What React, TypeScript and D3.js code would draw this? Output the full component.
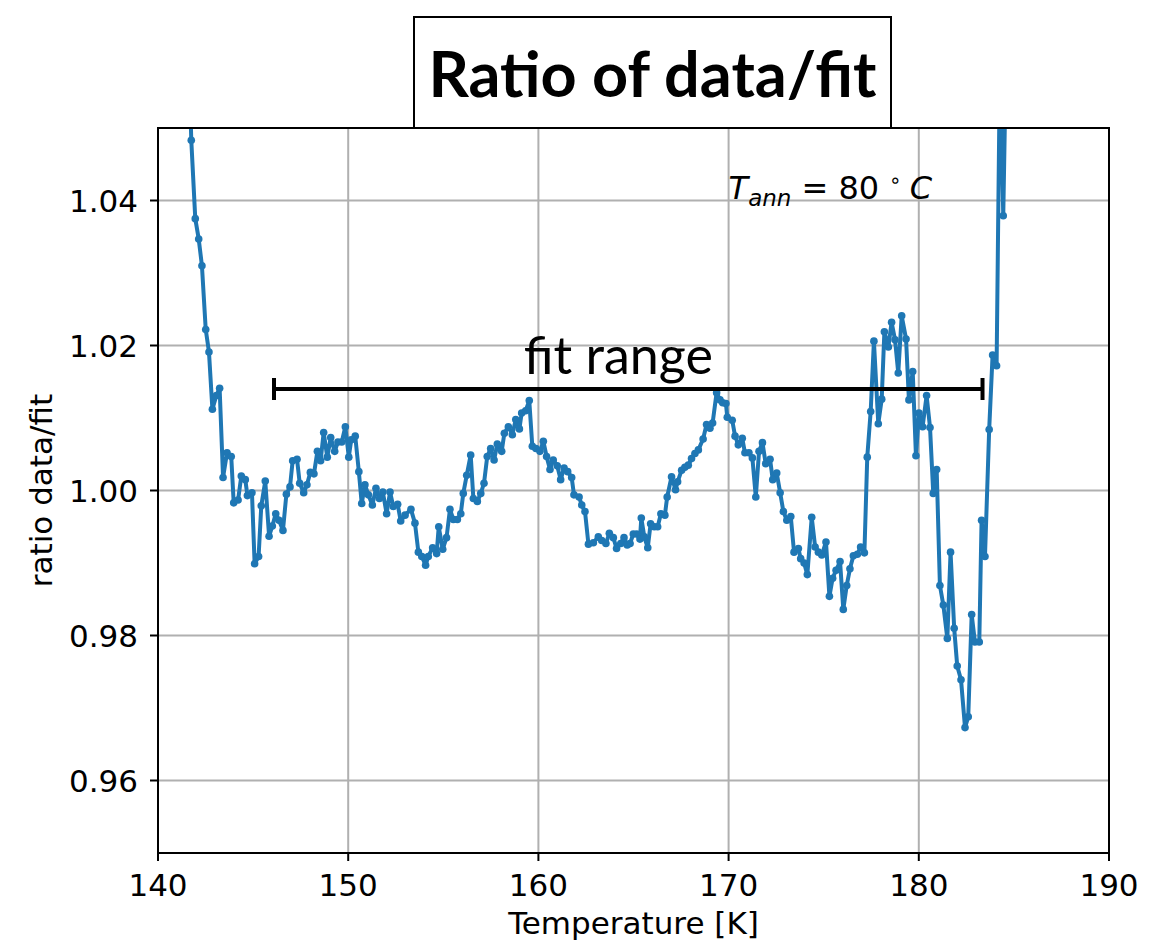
import React from "react";
import * as d3 from "d3";

// Temperature [K] of each measurement
const temperature: number[] = [
  141.6, 141.75, 141.96, 142.14, 142.31, 142.51, 142.68, 142.86, 143.07, 143.24,
  143.42, 143.63, 143.85, 143.98, 144.21, 144.38, 144.59, 144.7, 144.94, 145.08,
  145.29, 145.43, 145.64, 145.84, 146.01, 146.19, 146.36, 146.57, 146.75, 146.94,
  147.08, 147.31, 147.45, 147.66, 147.83, 148.01, 148.2, 148.38, 148.55, 148.71,
  148.9, 149.08, 149.29, 149.46, 149.66, 149.85, 150.03, 150.16, 150.37, 150.56,
  150.71, 150.88, 151.06, 151.27, 151.46, 151.64, 151.82, 152.02, 152.2, 152.37,
  152.6, 152.76, 152.99, 153.3, 153.51, 153.69, 153.87, 154.07, 154.21, 154.44,
  154.65, 154.76, 154.97, 155.17, 155.35, 155.53, 155.74, 155.92, 156.05, 156.23,
  156.44, 156.58, 156.79, 156.97, 157.14, 157.31, 157.49, 157.67, 157.84, 158.07,
  158.21, 158.42, 158.63, 158.81, 159.0, 159.12, 159.33, 159.52, 159.68, 159.87,
  160.08, 160.26, 160.43, 160.61, 160.78, 160.99, 161.17, 161.35, 161.54, 161.75,
  161.87, 162.14, 162.28, 162.45, 162.63, 162.89, 163.15, 163.33, 163.55, 163.73,
  163.94, 164.11, 164.33, 164.5, 164.67, 164.82, 164.99, 165.17, 165.34, 165.41,
  165.57, 165.75, 165.9, 166.09, 166.27, 166.44, 166.65, 166.77, 167.0, 167.21,
  167.32, 167.53, 167.7, 167.88, 168.05, 168.23, 168.41, 168.66, 168.84, 169.02,
  169.16, 169.37, 169.55, 169.69, 169.86, 169.93, 170.19, 170.34, 170.51, 170.72,
  170.86, 171.07, 171.25, 171.43, 171.6, 171.78, 171.95, 172.18, 172.32, 172.53,
  172.71, 172.88, 173.06, 173.27, 173.44, 173.67, 173.79, 173.97, 174.14, 174.37,
  174.55, 174.72, 174.9, 175.12, 175.3, 175.47, 175.65, 175.86, 176.03, 176.21,
  176.38, 176.56, 176.77, 176.94, 177.14, 177.29, 177.47, 177.64, 177.87, 178.05,
  178.19, 178.4, 178.57, 178.75, 178.92, 179.1, 179.33, 179.48, 179.68, 179.85,
  180.01, 180.2, 180.41, 180.59, 180.76, 180.94, 181.11, 181.29, 181.5, 181.67,
  181.86, 182.02, 182.22, 182.43, 182.6, 182.78, 182.95, 183.18, 183.3, 183.48,
  183.7, 183.88, 184.09, 184.27, 184.44, 184.62,
];

// Ratio of measured data to the fitted curve
const ratio: number[] = [
  1.062, 1.0483, 1.0375, 1.0347, 1.031, 1.0222, 1.0191, 1.0112, 1.0131, 1.0141,
  1.0018, 1.0052, 1.0047, 0.9983, 0.9987, 1.002, 1.0015, 0.9993, 0.9997, 0.9899,
  0.9909, 0.9979, 1.0013, 0.9937, 0.9951, 0.9968, 0.9959, 0.9945, 0.9995, 1.0005,
  1.0041, 1.0043, 1.001, 0.9997, 1.0008, 1.0025, 1.0023, 1.0054, 1.0041, 1.008,
  1.0046, 1.0073, 1.0054, 1.0067, 1.0067, 1.0088, 1.0046, 1.007, 1.0075, 1.0026,
  0.9982, 1.0008, 0.9994, 0.998, 1.0003, 0.9989, 0.9998, 0.9968, 0.9998, 0.9978,
  0.9981, 0.9958, 0.9966, 0.9974, 0.9955, 0.9915, 0.9909, 0.9897, 0.9909, 0.9921,
  0.9913, 0.995, 0.9919, 0.9935, 0.9974, 0.996, 0.996, 0.9968, 0.9996, 1.0021,
  1.0049, 0.9989, 0.9985, 0.9996, 1.001, 1.0047, 1.0058, 1.0042, 1.0064, 1.0054,
  1.0079, 1.0088, 1.0077, 1.0098, 1.0085, 1.0107, 1.011, 1.0124, 1.0061, 1.0058,
  1.0054, 1.0068, 1.0047, 1.0029, 1.0042, 1.0034, 1.0015, 1.0031, 1.0026, 1.0018,
  0.9994, 0.9991, 0.998, 0.9971, 0.9926, 0.9928, 0.9936, 0.9931, 0.9927, 0.9941,
  0.9935, 0.992, 0.9927, 0.9935, 0.9925, 0.9927, 0.994, 0.994, 0.9933, 0.9962,
  0.9936, 0.9921, 0.9954, 0.995, 0.995, 0.9968, 0.9966, 0.9991, 1.0019, 1.0001,
  1.0012, 1.0028, 1.0032, 1.0035, 1.0044, 1.0051, 1.0056, 1.0071, 1.0091, 1.0086,
  1.0093, 1.0135, 1.0125, 1.0121, 1.012, 1.0101, 1.0097, 1.0075, 1.0063, 1.0072,
  1.0052, 1.0052, 1.0045, 0.9991, 1.0054, 1.0066, 1.0037, 1.0043, 1.0015, 1.0024,
  0.9997, 0.9971, 0.9959, 0.9964, 0.9915, 0.992, 0.9906, 0.99, 0.9884, 0.9963,
  0.9922, 0.9915, 0.9911, 0.9929, 0.9854, 0.9879, 0.989, 0.9902, 0.9836, 0.9869,
  0.9892, 0.991, 0.9912, 0.9922, 0.9914, 1.0046, 1.0109, 1.0206, 1.0092, 1.0126,
  1.0219, 1.0198, 1.0232, 1.0208, 1.0162, 1.0241, 1.0209, 1.0125, 1.0164, 1.0048,
  1.0107, 1.0088, 1.0131, 1.0087, 0.9996, 1.0029, 0.9869, 0.9842, 0.9796, 0.9915,
  0.981, 0.9758, 0.9739, 0.9673, 0.9688, 0.9829, 0.9791, 0.9791, 0.9959, 0.9909,
  1.0084, 1.0187, 1.0172, 1.06, 1.0379, 1.065,
];

const xTicks: number[] = [140, 150, 160, 170, 180, 190];
const yTicks: number[] = [0.96, 0.98, 1.0, 1.02, 1.04];

// Temperature window used for the fit, and the level its bar is drawn at
const fitRange: number[] = [146.1, 183.35];
const fitBarLevel = 1.014;

const WIDTH = 1165;
const HEIGHT = 943;
const M = { left: 158, right: 1109, top: 128, bottom: 853 };
const BLUE = "#1f77b4";
const TICK_FONT = "'DejaVu Sans', sans-serif";
const TITLE_FONT = "Lato, 'Open Sans', sans-serif";
const TICK_SIZE = 31;

export default function App() {
  const x = d3.scaleLinear().domain([140, 190]).range([M.left, M.right]);
  const y = d3.scaleLinear().domain([0.95, 1.05]).range([M.bottom, M.top]);

  const points = temperature.map((t, i) => [t, ratio[i]] as [number, number]);
  const line = d3
    .line<[number, number]>()
    .x((d) => x(d[0]))
    .y((d) => y(d[1]));

  const fitY = y(fitBarLevel);
  const fitX0 = x(fitRange[0]);
  const fitX1 = x(fitRange[1]);
  const fitMid = x((fitRange[0] + fitRange[1]) / 2) - 10;

  return (
    <svg
      width={WIDTH}
      height={HEIGHT}
      style={{ position: "absolute", left: 0, top: 0, background: "#fff" }}
    >
      <defs>
        <clipPath id="plot-area">
          <rect x={M.left} y={M.top} width={M.right - M.left} height={M.bottom - M.top} />
        </clipPath>
      </defs>

      {/* grid */}
      <g stroke="#b0b0b0" strokeWidth={2}>
        {xTicks.map((t) => (
          <line key={`gx${t}`} x1={x(t)} x2={x(t)} y1={M.top} y2={M.bottom} />
        ))}
        {yTicks.map((t) => (
          <line key={`gy${t}`} x1={M.left} x2={M.right} y1={y(t)} y2={y(t)} />
        ))}
      </g>

      {/* measured ratio */}
      <g clipPath="url(#plot-area)">
        <path d={line(points) ?? ""} fill="none" stroke={BLUE} strokeWidth={4} strokeLinejoin="round" />
        {points.map((p, i) => (
          <circle key={i} cx={x(p[0])} cy={y(p[1])} r={3.8} fill={BLUE} />
        ))}
      </g>

      {/* fit range bar */}
      <g stroke="#000" strokeWidth={4}>
        <line x1={fitX0} x2={fitX1} y1={fitY} y2={fitY} />
        <line x1={fitX0} x2={fitX0} y1={fitY - 11} y2={fitY + 11} />
        <line x1={fitX1} x2={fitX1} y1={fitY - 11} y2={fitY + 11} />
      </g>
      <text
        x={fitMid}
        y={fitY - 15}
        textAnchor="middle"
        fontFamily={TITLE_FONT}
        fontSize={52}
        fill="#000"
      >
        fit range
      </text>

      {/* annealing temperature note */}
      <text x={x(170)} y={y(1.04) - 2} fontFamily={TICK_FONT} fontSize={32} fill="#000">
        <tspan fontStyle="italic">T</tspan>
        <tspan fontStyle="italic" fontSize={23} dy={7}>ann</tspan>
        <tspan dy={-7} dx={10}>= 80</tspan>
        <tspan fontSize={20} dy={-12} dx={10}>∘</tspan>
        <tspan fontStyle="italic" dy={12} dx={8}>C</tspan>
      </text>

      {/* frame */}
      <rect
        x={M.left}
        y={M.top}
        width={M.right - M.left}
        height={M.bottom - M.top}
        fill="none"
        stroke="#000"
        strokeWidth={2}
      />

      {/* x axis */}
      <g>
        {xTicks.map((t) => (
          <g key={`xt${t}`}>
            <line x1={x(t)} x2={x(t)} y1={M.bottom} y2={M.bottom + 8} stroke="#000" strokeWidth={2} />
            <text
              x={x(t)}
              y={M.bottom + 43}
              textAnchor="middle"
              fontFamily={TICK_FONT}
              fontSize={TICK_SIZE}
              fill="#000"
            >
              {t}
            </text>
          </g>
        ))}
        <text
          x={(M.left + M.right) / 2}
          y={934}
          textAnchor="middle"
          fontFamily={TICK_FONT}
          fontSize={TICK_SIZE}
          fill="#000"
        >
          Temperature [K]
        </text>
      </g>

      {/* y axis */}
      <g>
        {yTicks.map((t) => (
          <g key={`yt${t}`}>
            <line x1={M.left - 8} x2={M.left} y1={y(t)} y2={y(t)} stroke="#000" strokeWidth={2} />
            <text
              x={M.left - 20}
              y={y(t)}
              dy="0.36em"
              textAnchor="end"
              fontFamily={TICK_FONT}
              fontSize={TICK_SIZE}
              fill="#000"
            >
              {d3.format(".2f")(t)}
            </text>
          </g>
        ))}
        <text
          transform={`translate(52, ${(M.top + M.bottom) / 2}) rotate(-90)`}
          textAnchor="middle"
          fontFamily={TICK_FONT}
          fontSize={TICK_SIZE}
          fill="#000"
        >
          ratio data/fit
        </text>
      </g>

      {/* title */}
      <rect x={414} y={17} width={477} height={M.top - 17} fill="#fff" stroke="#000" strokeWidth={2} />
      <text
        x={(414 + 891) / 2}
        y={97}
        textAnchor="middle"
        fontFamily={TITLE_FONT}
        fontWeight="bold"
        fontSize={63}
        fill="#000"
      >
        Ratio of data/fit
      </text>
    </svg>
  );
}
